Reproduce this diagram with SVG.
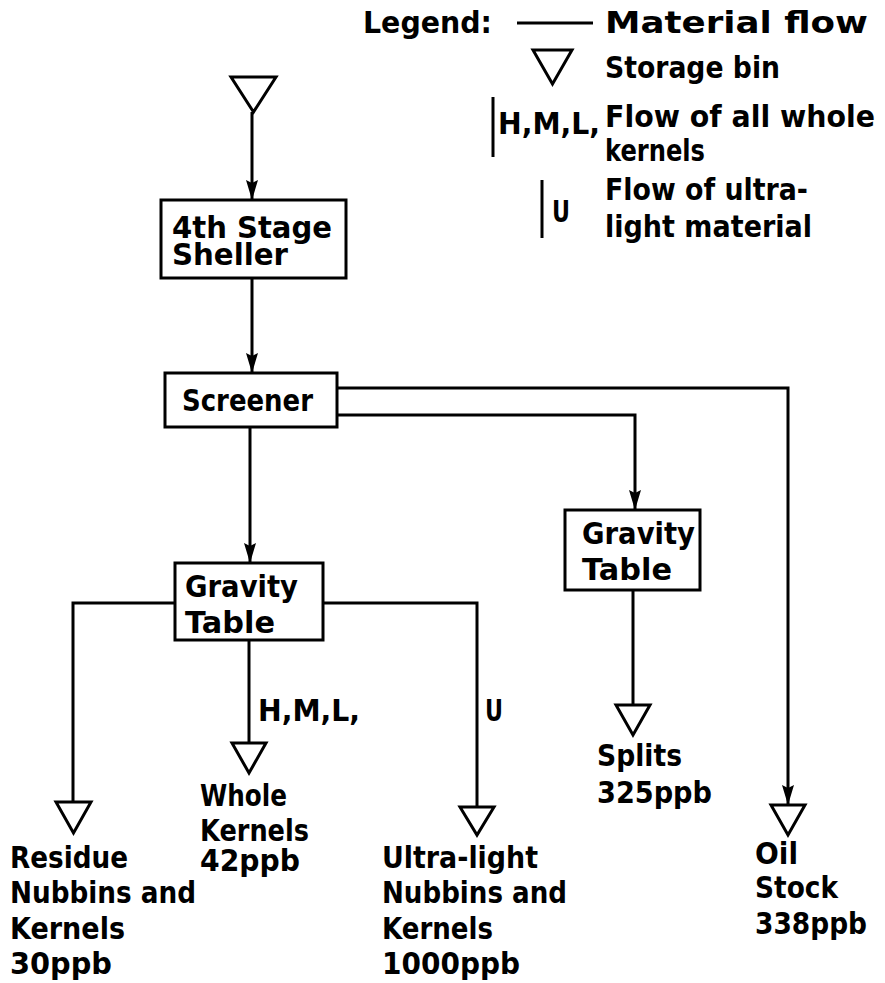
<svg xmlns="http://www.w3.org/2000/svg" width="885" height="983" viewBox="0 0 885 983">
<defs>
<style>
text{font-family:"DejaVu Sans","Liberation Sans",sans-serif;font-weight:bold;font-size:30px;fill:#000}
.box{fill:#fff;stroke:#000;stroke-width:3}
.bin{fill:#fff;stroke:#000;stroke-width:3;stroke-linejoin:miter}
.flow{fill:none;stroke:#000;stroke-width:3}
.arr{marker-end:url(#ah)}
</style>
<marker id="ah" viewBox="0 0 20 12" refX="20" refY="6" markerWidth="20" markerHeight="12" markerUnits="userSpaceOnUse" orient="auto">
<path d="M0,0 L20,6 L0,12 L3,6 Z" fill="#000"/>
</marker>
</defs>
<rect width="885" height="983" fill="#fff"/>

<g id="legend">
<text x="363" y="33" textLength="129" lengthAdjust="spacingAndGlyphs">Legend:</text>
<line x1="517" y1="23" x2="593" y2="23" class="flow"/>
<text x="605" y="33" textLength="263" lengthAdjust="spacingAndGlyphs">Material flow</text>
<path d="M533,50 L572,50 L552.5,84 Z" class="bin"/>
<text x="605" y="78" textLength="175" lengthAdjust="spacingAndGlyphs">Storage bin</text>
<line x1="493" y1="97" x2="493" y2="157" class="flow"/>
<text x="498" y="134" textLength="102" lengthAdjust="spacingAndGlyphs">H,M,L,</text>
<text x="605" y="127" textLength="270" lengthAdjust="spacingAndGlyphs">Flow of all whole</text>
<text x="605" y="161" textLength="100" lengthAdjust="spacingAndGlyphs">kernels</text>
<line x1="542" y1="180" x2="542" y2="238" class="flow"/>
<text x="552" y="222" textLength="18" lengthAdjust="spacingAndGlyphs">U</text>
<text x="605" y="200" textLength="203" lengthAdjust="spacingAndGlyphs">Flow of ultra-</text>
<text x="605" y="237" textLength="207" lengthAdjust="spacingAndGlyphs">light material</text>
</g>

<g id="connectors">
<line x1="252" y1="112" x2="252" y2="200" class="flow arr"/>
<line x1="252" y1="278" x2="252" y2="373" class="flow arr"/>
<line x1="250" y1="427" x2="250" y2="563" class="flow arr"/>
<polyline points="337,388 788,388 788,805" class="flow arr"/>
<polyline points="337,415 635,415 635,510" class="flow arr"/>
<polyline points="175,603 73,603 73,802" class="flow"/>
<polyline points="323,603 477,603 477,807" class="flow"/>
<line x1="249" y1="640" x2="249" y2="743" class="flow"/>
<line x1="633" y1="590" x2="633" y2="705" class="flow"/>
<text x="258" y="721" textLength="102" lengthAdjust="spacingAndGlyphs">H,M,L,</text>
<text x="485" y="721" textLength="18" lengthAdjust="spacingAndGlyphs">U</text>
</g>

<g id="feed-bin">
<path d="M231,77 L276,77 L253.5,112 Z" class="bin"/>
</g>

<g id="sheller">
<rect x="161" y="200" width="185" height="78" class="box"/>
<text x="172" y="238" textLength="160" lengthAdjust="spacingAndGlyphs">4th Stage</text>
<text x="172" y="265" textLength="116" lengthAdjust="spacingAndGlyphs">Sheller</text>
</g>

<g id="screener">
<rect x="165" y="373" width="172" height="54" class="box"/>
<text x="182" y="411" textLength="131" lengthAdjust="spacingAndGlyphs">Screener</text>
</g>

<g id="gravity-table-1">
<rect x="175" y="563" width="148" height="77" class="box"/>
<text x="185" y="597" textLength="113" lengthAdjust="spacingAndGlyphs">Gravity</text>
<text x="185" y="633" textLength="90" lengthAdjust="spacingAndGlyphs">Table</text>
</g>

<g id="gravity-table-2">
<rect x="565" y="510" width="135" height="80" class="box"/>
<text x="582" y="544" textLength="113" lengthAdjust="spacingAndGlyphs">Gravity</text>
<text x="582" y="580" textLength="90" lengthAdjust="spacingAndGlyphs">Table</text>
</g>

<g id="residue">
<path d="M56,802 L91,802 L73.5,833 Z" class="bin"/>
<text x="10" y="868" textLength="118" lengthAdjust="spacingAndGlyphs">Residue</text>
<text x="10" y="903" textLength="186" lengthAdjust="spacingAndGlyphs">Nubbins and</text>
<text x="10" y="939" textLength="115" lengthAdjust="spacingAndGlyphs">Kernels</text>
<text x="10" y="974" textLength="102" lengthAdjust="spacingAndGlyphs">30ppb</text>
</g>

<g id="whole-kernels">
<path d="M232,743 L266,743 L249,773 Z" class="bin"/>
<text x="200" y="806" textLength="87" lengthAdjust="spacingAndGlyphs">Whole</text>
<text x="200" y="841" textLength="109" lengthAdjust="spacingAndGlyphs">Kernels</text>
<text x="200" y="871" textLength="100" lengthAdjust="spacingAndGlyphs">42ppb</text>
</g>

<g id="ultra-light">
<path d="M460,807 L494,807 L477,835 Z" class="bin"/>
<text x="382" y="868" textLength="156" lengthAdjust="spacingAndGlyphs">Ultra-light</text>
<text x="382" y="903" textLength="185" lengthAdjust="spacingAndGlyphs">Nubbins and</text>
<text x="382" y="939" textLength="111" lengthAdjust="spacingAndGlyphs">Kernels</text>
<text x="382" y="974" textLength="138" lengthAdjust="spacingAndGlyphs">1000ppb</text>
</g>

<g id="splits">
<path d="M616,705 L650,705 L633,735 Z" class="bin"/>
<text x="597" y="766" textLength="85" lengthAdjust="spacingAndGlyphs">Splits</text>
<text x="597" y="803" textLength="115" lengthAdjust="spacingAndGlyphs">325ppb</text>
</g>

<g id="oil-stock">
<path d="M771,805 L805,805 L788,835 Z" class="bin"/>
<text x="755" y="864" textLength="43" lengthAdjust="spacingAndGlyphs">Oil</text>
<text x="755" y="898" textLength="83" lengthAdjust="spacingAndGlyphs">Stock</text>
<text x="755" y="934" textLength="112" lengthAdjust="spacingAndGlyphs">338ppb</text>
</g>
</svg>
